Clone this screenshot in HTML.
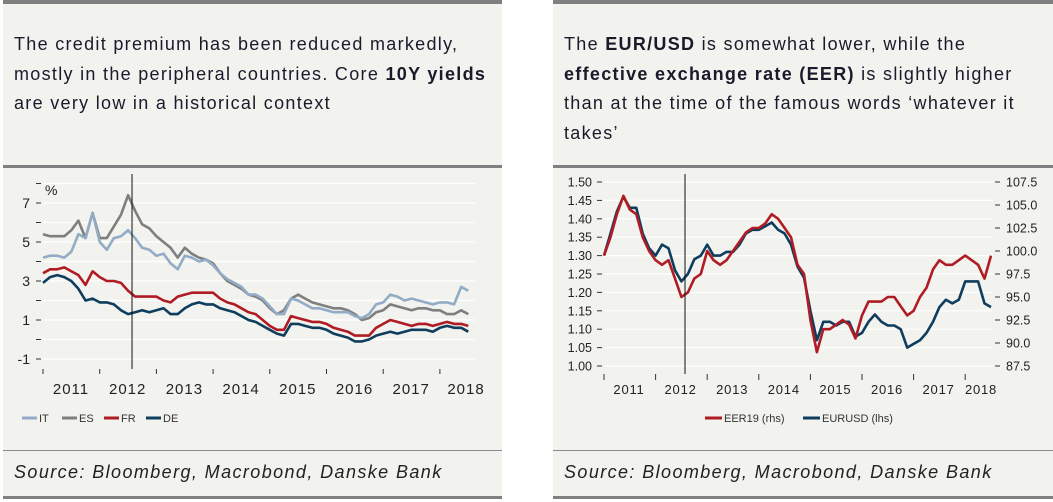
<!DOCTYPE html>
<html><head><meta charset="utf-8"><style>
body{margin:0;width:1053px;height:502px;background:#fff;position:relative;overflow:hidden;font-family:"Liberation Sans",sans-serif;color:#1a1a2a}
.panel{position:absolute;top:0;height:499px;background:#f2f2ef;border-top:4px solid #808080;border-bottom:3px solid #808080;box-sizing:border-box}
.hdr{position:absolute;left:11px;top:26px;font-size:18px;line-height:29.7px;letter-spacing:1.3px;white-space:nowrap}
.div{position:absolute;left:0;right:0;top:161px;height:3px;background:#808080}
.thin{position:absolute;left:0;right:0;top:446px;height:1px;background:#8a8a8a}
.src{position:absolute;left:11px;top:458px;font-size:18px;letter-spacing:1.4px;font-style:italic;color:#222;white-space:nowrap}
svg{position:absolute;left:0;top:0}
</style></head><body>
<div class="panel" style="left:3px;width:499px">
<div class="hdr">The credit premium has been reduced markedly,<br>mostly in the peripheral countries. Core <b>10Y yields</b><br>are very low in a historical context</div>
<div class="div"></div>
<div class="thin"></div>
<div class="src">Source: Bloomberg, Macrobond, Danske Bank</div>
</div>
<div class="panel" style="left:553px;width:500px">
<div class="hdr">The <b>EUR/USD</b> is somewhat lower, while the<br><b>effective exchange rate (EER)</b> is slightly higher<br>than at the time of the famous words ‘whatever it<br>takes’</div>
<div class="div"></div>
<div class="thin"></div>
<div class="src">Source: Bloomberg, Macrobond, Danske Bank</div>
</div>
<svg id="c" width="1053" height="502"></svg>
<script>
const years=[2011,2012,2013,2014,2015,2016,2017,2018];
const yTicksL=[-1,1,3,5,7];
const IT=[4.2,4.3,4.3,4.2,4.5,5.4,5.2,6.5,5.0,4.6,5.2,5.3,5.6,5.2,4.7,4.6,4.3,4.4,3.9,3.6,4.3,4.2,4.0,4.1,3.8,3.4,3.1,2.9,2.7,2.3,2.3,2.1,1.7,1.3,1.3,2.1,2.0,1.8,1.6,1.6,1.5,1.4,1.4,1.4,1.2,1.1,1.3,1.8,1.9,2.3,2.2,2.0,2.1,2.0,1.9,1.8,1.9,1.9,1.8,2.7,2.5];
const ES=[5.4,5.3,5.3,5.3,5.6,6.1,5.2,6.5,5.2,5.2,5.8,6.4,7.4,6.6,5.9,5.7,5.3,5.0,4.7,4.2,4.7,4.4,4.2,4.1,3.9,3.4,3.0,2.8,2.6,2.3,2.2,2.0,1.6,1.3,1.5,2.1,2.3,2.1,1.9,1.8,1.7,1.6,1.6,1.5,1.3,1.0,1.1,1.4,1.5,1.8,1.7,1.6,1.5,1.6,1.6,1.5,1.5,1.3,1.3,1.5,1.3];
const FR=[3.4,3.6,3.6,3.7,3.5,3.3,2.8,3.5,3.2,3.0,3.0,2.9,2.5,2.2,2.2,2.2,2.2,2.0,1.9,2.2,2.3,2.4,2.4,2.4,2.4,2.1,1.9,1.8,1.6,1.4,1.3,1.0,0.7,0.5,0.5,1.2,1.1,1.0,0.9,0.9,0.8,0.6,0.5,0.4,0.2,0.2,0.2,0.6,0.8,1.0,0.9,0.8,0.7,0.8,0.8,0.7,0.8,0.9,0.8,0.8,0.7];
const DE=[2.9,3.2,3.3,3.2,3.0,2.6,2.0,2.1,1.9,1.9,1.8,1.5,1.3,1.4,1.5,1.4,1.5,1.6,1.3,1.3,1.6,1.8,1.9,1.8,1.8,1.6,1.5,1.4,1.2,1.0,0.9,0.7,0.5,0.3,0.2,0.8,0.8,0.7,0.6,0.6,0.5,0.3,0.2,0.1,-0.1,-0.1,0.0,0.2,0.3,0.4,0.3,0.4,0.5,0.5,0.5,0.4,0.6,0.7,0.6,0.6,0.4];
const yTicksR1=[1.00,1.05,1.10,1.15,1.20,1.25,1.30,1.35,1.40,1.45,1.50];
const yTicksR2=[87.5,90.0,92.5,95.0,97.5,100.0,102.5,105.0,107.5];
const EURUSD=[1.30,1.36,1.42,1.46,1.43,1.43,1.36,1.32,1.30,1.33,1.32,1.26,1.23,1.25,1.29,1.30,1.33,1.30,1.30,1.31,1.31,1.33,1.36,1.37,1.37,1.38,1.39,1.37,1.36,1.33,1.27,1.24,1.15,1.07,1.12,1.12,1.11,1.12,1.12,1.08,1.09,1.12,1.14,1.12,1.11,1.11,1.10,1.05,1.06,1.07,1.09,1.12,1.16,1.18,1.17,1.18,1.23,1.23,1.23,1.17,1.16];
const EER19=[99.5,101.5,104,106,104.5,104,101.5,100,99,98.5,99,97,95,95.5,97,97.5,100,99,98.5,99,100,101,102,102.5,102.5,103,104,103.5,102.5,101.5,98.5,97.5,92.5,89,91.5,91.5,92,92.5,92,90.5,93,94.5,94.5,94.5,95,95,94,93,93.5,95,96,98,99,98.5,98.5,99,99.5,99,98.5,97,99.5];
const T0=2011, DT=0.125, EVENT=2012.57;

const svg=document.getElementById('c');
const NS='http://www.w3.org/2000/svg';
function mk(tag,attrs,txt){const e=document.createElementNS(NS,tag);for(const k in attrs)e.setAttribute(k,attrs[k]);if(txt!==undefined)e.textContent=txt;svg.appendChild(e);return e;}
const xL=t=>43+(t-2011)*56.7, yL=v=>320-(v-1)*19.5;
const xR=t=>604+(t-2011)*51.6, yR1=v=>182+(1.5-v)/0.5*184, yR2=v=>182+(107.5-v)/20*184;

for(let v=-1;v<=8;v++){
  const g=mk('line',{x1:xL(2011),x2:475,y1:yL(v),y2:yL(v),stroke:'#fff','stroke-width':1.2});
  
  
  const tk=mk('line',{x1:36,x2:41,y1:yL(v),y2:yL(v),stroke:'#333','stroke-width':1});
  
  
}
yTicksL.forEach(v=>{
  const t=mk('text',{x:30,y:yL(v)+5,'text-anchor':'end','font-size':14,fill:'#222'},String(v));
  
  
});
const pct=mk('text',{x:45,y:195,'font-size':14,fill:'#222'},'%');


years.forEach(y=>{
  const tk=mk('line',{x1:xL(y),x2:xL(y),y1:369,y2:374,stroke:'#333','stroke-width':1});
  
  
  const t=mk('text',{x:(y===2018?466:xL(y)+28),y:394,'text-anchor':'middle','font-size':15,'letter-spacing':1,fill:'#222'},String(y));
  
  
});
function series(arr,xf,yf,color,name){
  const d=arr.map((v,i)=>(i?'L':'M')+xf(T0+i*DT).toFixed(1)+' '+yf(v).toFixed(1)).join(' ');
  const p=mk('path',{d:d,fill:'none',stroke:color,'stroke-width':2.6,'stroke-linejoin':'round'});
  
  
}
series(ES,xL,yL,'#7f7f7f','es-line');
series(IT,xL,yL,'#92acc6','it-line');
series(FR,xL,yL,'#b01c24','fr-line');
series(DE,xL,yL,'#0e3d5e','de-line');
const evL=mk('line',{x1:xL(EVENT),x2:xL(EVENT),y1:174,y2:369,stroke:'#111','stroke-width':1});


[['IT','#92acc6',22],['ES','#7f7f7f',62],['FR','#b01c24',104],['DE','#0e3d5e',146]].forEach(([n,c,x])=>{
  const l=mk('line',{x1:x,x2:x+15,y1:418,y2:418,stroke:c,'stroke-width':3});
  
  
  const t=mk('text',{x:x+17,y:422,'font-size':11,fill:'#333'},n);
  
  
});

yTicksR1.forEach(v=>{
  const g=mk('line',{x1:604,x2:993,y1:yR1(v),y2:yR1(v),stroke:'#fff','stroke-width':1.2});
  
  
  const tk=mk('line',{x1:597,x2:602,y1:yR1(v),y2:yR1(v),stroke:'#333','stroke-width':1});
  
  
  const t=mk('text',{x:592,y:yR1(v)+4.5,'text-anchor':'end','font-size':12.5,fill:'#222'},v.toFixed(2));
  
  
});
yTicksR2.forEach(v=>{
  const tk=mk('line',{x1:995,x2:1000,y1:yR2(v),y2:yR2(v),stroke:'#333','stroke-width':1});
  
  
  const t=mk('text',{x:1006,y:yR2(v)+4.5,'font-size':12.5,fill:'#222'},v.toFixed(1));
  
  
});
years.forEach(y=>{
  const tk=mk('line',{x1:xR(y),x2:xR(y),y1:374,y2:380,stroke:'#333','stroke-width':1});
  
  
  const t=mk('text',{x:(y===2018?981:xR(y)+25),y:394,'text-anchor':'middle','font-size':13,'letter-spacing':0.8,fill:'#222'},String(y));
  
  
});
series(EURUSD,xR,yR1,'#0e3d5e','eurusd-line');
series(EER19,xR,yR2,'#b01c24','eer19-line');
const evR=mk('line',{x1:xR(EVENT),x2:xR(EVENT),y1:174,y2:374,stroke:'#111','stroke-width':1});


[['EER19 (rhs)','#b01c24',705,'eer19'],['EURUSD (lhs)','#0e3d5e',803,'eurusd']].forEach(([n,c,x,k])=>{
  const l=mk('line',{x1:x,x2:x+17,y1:418,y2:418,stroke:c,'stroke-width':3});
  
  
  const t=mk('text',{x:x+19,y:422,'font-size':11,fill:'#333'},n);
  
  
});
</script>
</body></html>
